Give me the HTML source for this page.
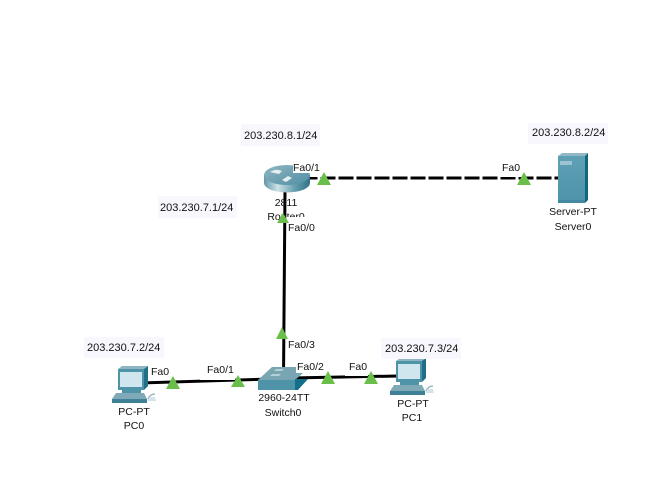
<!DOCTYPE html>
<html>
<head>
<meta charset="utf-8">
<style>
html,body{margin:0;padding:0;background:#fff;width:665px;height:485px;overflow:hidden}
svg{display:block}
text{font-family:"Liberation Sans",sans-serif;font-size:10.5px;fill:#111}
.ip{font-size:11px}
</style>
</head>
<body>
<svg width="665" height="485" viewBox="0 0 665 485" xmlns="http://www.w3.org/2000/svg">
<defs>
<linearGradient id="rb" x1="0" x2="1" y1="0" y2="0">
<stop offset="0" stop-color="#5f97a8"/><stop offset=".3" stop-color="#cfe2e6"/><stop offset=".65" stop-color="#6aa2b3"/><stop offset="1" stop-color="#2f7186"/>
</linearGradient>
<linearGradient id="rt" x1="0" x2="1" y1="0" y2="1">
<stop offset="0" stop-color="#8fb6c2"/><stop offset="1" stop-color="#4f8fa3"/>
</linearGradient>
<linearGradient id="sv" x1="0" x2="0" y1="0" y2="1">
<stop offset="0" stop-color="#5fa0b5"/><stop offset="1" stop-color="#4d93a9"/>
</linearGradient>
<g id="pc">
<path d="M-13 -16 L13 -16 L17 -19 L-9 -19 Z" fill="#8db6c3"/>
<path d="M13 -16 L17 -19 L17 1 L13 5 Z" fill="#1f6f86"/>
<rect x="-13" y="-16" width="26" height="21" fill="#4f93a8"/>
<rect x="-11" y="-13" width="22" height="15" fill="#cfe6ee"/>
<rect x="-9" y="5" width="19" height="3" fill="#4f93a8"/>
<path d="M-15 8 L13 8 L16 14 L-19 14 Z" fill="#7fa9b6"/>
<rect x="-19" y="14" width="35" height="4" fill="#3f8298"/>
<path d="M17 14 q2 -5 7 -5" stroke="#8aaab5" fill="none" stroke-width="1.3"/>
<path d="M18 12 h6 l1 4 h-8 Z" fill="#d5e4e8"/>
</g>
</defs>

<!-- connectors -->
<path d="M302.500 178 H558" stroke="#000" stroke-width="3" stroke-dasharray="15 3" fill="none"/>
<line x1="285" y1="190" x2="283.500" y2="378" stroke="#000" stroke-width="3"/>
<line x1="140" y1="383" x2="270" y2="379" stroke="#000" stroke-width="3"/>
<line x1="290" y1="378" x2="398" y2="376" stroke="#000" stroke-width="3"/>

<!-- router -->
<path d="M264 175 V183 A23 9.500 0 0 0 310 183 V175 Z" fill="url(#rb)"/>
<ellipse cx="287" cy="175" rx="23" ry="10" fill="url(#rt)"/>
<path d="M270 172 q6 -4 12 -1 l-3 3 q-5 -1 -9 -2 Z M282 180 l6 -4 l4 2 l-6 4 Z M293 172 l5 -3 l4 1 l-5 3 Z" fill="#e5eef1"/>

<!-- server -->
<path d="M558 156 L562 153 L588 153 L585 156 Z" fill="#8fb9c6"/>
<path d="M585 156 L588 153 L588 200 L585 203 Z" fill="#11677f"/>
<rect x="558" y="156" width="27" height="47" fill="url(#sv)"/>
<rect x="560" y="161" width="12" height="4" fill="#9cc3cf"/>
<rect x="558" y="200" width="27" height="3" fill="#438aa0"/>

<!-- switch -->
<path d="M258 380 H295 V390 H258 Z" fill="#4f93a8"/>
<path d="M258 380 L272 367 L310 367 L295 380 Z" fill="#79a5b3"/>
<path d="M295 379 L308 379 L298 390 L295 390 Z" fill="#14708a"/>
<path d="M272 374 h9 l-2 2 h-9 Z M276 369 h8 l-2 2 h-8 Z" fill="#b4d0d8"/>

<!-- PCs -->
<use href="#pc" x="131" y="385"/>
<use href="#pc" x="409" y="377"/>

<!-- port labels with white backings -->
<rect x="293" y="160" width="29" height="13" fill="#fff"/>
<rect x="310" y="170" width="12" height="7" fill="#fff"/>
<text x="293" y="171">Fa0/1</text>
<rect x="500" y="161" width="23" height="16" fill="#fff"/>
<text x="502" y="171">Fa0</text>
<rect x="287" y="220" width="33" height="15" fill="#fff"/>
<text x="288" y="231">Fa0/0</text>
<rect x="286" y="337" width="34" height="15" fill="#fff"/>
<text x="288" y="348">Fa0/3</text>
<rect x="296" y="359" width="30" height="14" fill="#fff"/>
<text x="297" y="370">Fa0/2</text>
<rect x="345" y="360" width="23" height="16" fill="#fff"/>
<text x="349" y="370">Fa0</text>
<rect x="149" y="364" width="24" height="14" fill="#fff"/>
<text x="151" y="375">Fa0</text>
<rect x="200" y="363" width="35" height="17" fill="#fff"/>
<text x="207" y="373">Fa0/1</text>

<!-- device labels -->
<text x="286" y="206" text-anchor="middle">2811</text>
<text x="286" y="220" text-anchor="middle">Router0</text>
<rect x="287" y="217" width="33" height="5" fill="#fff"/>
<text x="573" y="215" text-anchor="middle">Server-PT</text>
<text x="573" y="230" text-anchor="middle">Server0</text>
<text x="284" y="401" text-anchor="middle">2960-24TT</text>
<text x="283" y="416" text-anchor="middle">Switch0</text>
<text x="134" y="415" text-anchor="middle">PC-PT</text>
<text x="134" y="429" text-anchor="middle">PC0</text>
<text x="413" y="407" text-anchor="middle">PC-PT</text>
<text x="412" y="421" text-anchor="middle">PC1</text>

<!-- link lights -->
<g fill="#6abf4b">
<path d="M324 172 L331 185 L317 185 Z"/>
<path d="M524 172 L531 185 L517 185 Z"/>
<path d="M283 213 L289 223 L277 223 Z"/>
<path d="M282 327 L288 339 L276 339 Z"/>
<path d="M173 376 L180 389 L166 389 Z"/>
<path d="M238 375 L245 387 L231 387 Z"/>
<path d="M328 371 L335 384 L321 384 Z"/>
<path d="M371 371 L378 384 L364 384 Z"/>
</g>

<!-- notes -->
<g fill="#f7f7fd">
<rect x="241" y="124" width="79" height="22"/>
<rect x="158" y="196" width="79" height="22"/>
<rect x="528" y="123" width="80" height="21"/>
<rect x="84" y="337" width="80" height="21"/>
<rect x="381" y="338" width="80" height="21"/>
</g>
<text class="ip" x="244" y="139">203.230.8.1/24</text>
<text class="ip" x="160" y="211">203.230.7.1/24</text>
<text class="ip" x="532" y="136">203.230.8.2/24</text>
<text class="ip" x="87" y="351">203.230.7.2/24</text>
<text class="ip" x="385" y="352">203.230.7.3/24</text>
</svg>
</body>
</html>
